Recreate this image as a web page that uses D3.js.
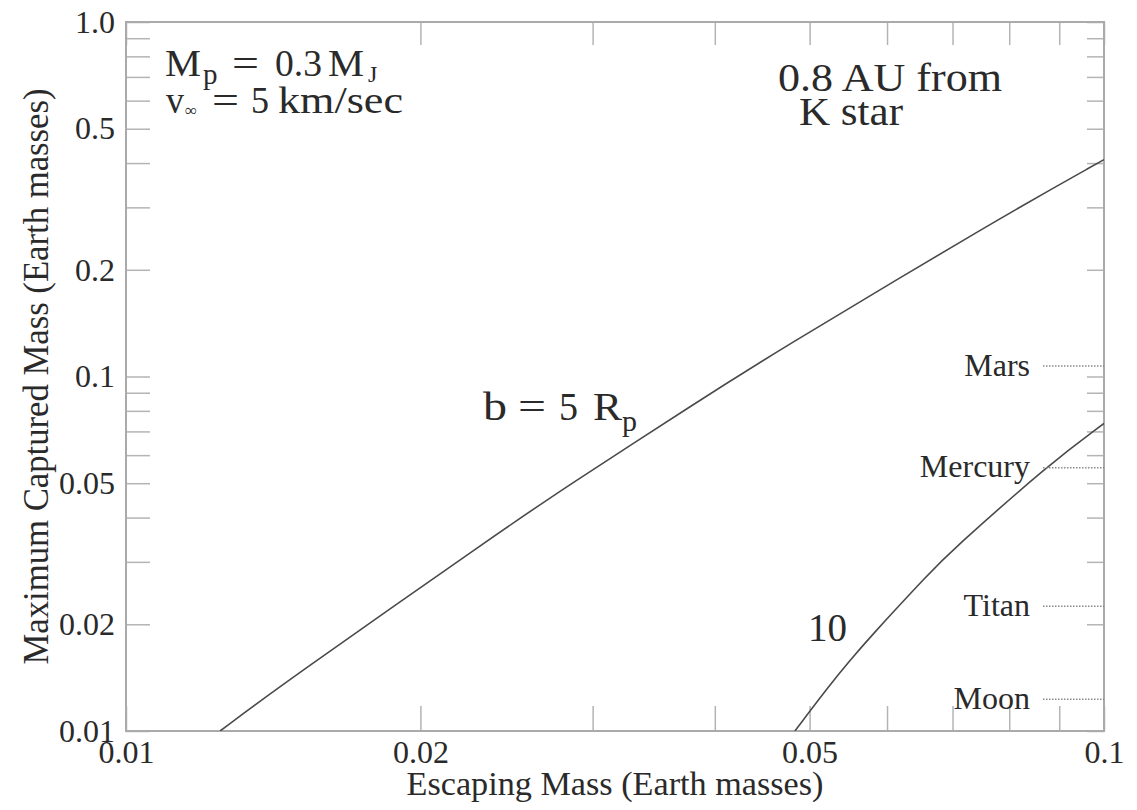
<!DOCTYPE html>
<html>
<head>
<meta charset="utf-8">
<script src="https://cdn.jsdelivr.net/npm/d3@7"></script>
<style>
  html, body { margin: 0; padding: 0; background: #fff; }
  svg, svg text { font-family: "Liberation Serif", "Tinos", "Times New Roman", "DejaVu Serif", "Noto Serif", serif; }
</style>
</head>
<body>
<svg id="chart" width="1137" height="810"></svg>
<script>
// ---- data ----
const xLabeledTicks = [0.01, 0.02, 0.05, 0.1];
const xTickText = ["0.01", "0.02", "0.05", "0.1"];
const yLabeledTicks = [1.0, 0.5, 0.2, 0.1, 0.05, 0.02, 0.01];
const yTickText = ["1.0", "0.5", "0.2", "0.1", "0.05", "0.02", "0.01"];

// curve "b = 5 Rp"
const curveB_x = [0.01248, 0.01448, 0.02413, 0.0280, 0.0386, 0.04518, 0.0783, 0.1];
const curveB_y = [0.0100, 0.0136, 0.0365, 0.0483, 0.0856, 0.1131, 0.2805, 0.409];
// curve "10"
const curve10_x = [0.0483, 0.0525, 0.0550, 0.0576, 0.0664, 0.0696, 0.0880, 0.1];
const curve10_y = [0.0100, 0.01355, 0.01581, 0.01837, 0.02802, 0.03199, 0.05675, 0.0737];

const planetNames = ["Mars", "Mercury", "Titan", "Moon"];
const planetMass = [0.107, 0.0553, 0.0225, 0.0123];

// ---- layout ----
const FONT = '"Liberation Serif", "Tinos", "Times New Roman", "DejaVu Serif", "Noto Serif", serif';
const svg = d3.select("#chart");
const L = 126, R = 1104, T = 22, B = 731;
const x = d3.scaleLog().domain([0.01, 0.1]).range([L, R]);
const y = d3.scaleLog().domain([0.01, 1.0]).range([B, T]);

const allTicks = [];
[0.01, 0.1].forEach(d => { for (let k = 1; k <= 9; k++) allTicks.push(+(k * d).toPrecision(3)); });
const xTicks = allTicks.filter(v => v >= 0.01 && v <= 0.1);
const yTicks = allTicks.concat([1.0]).filter(v => v >= 0.01 && v <= 1.0);

function fmtFactory(vals, texts) {
  return v => {
    const i = vals.findIndex(u => Math.abs(u - v) / u < 1e-6);
    return i >= 0 ? texts[i] : "";
  };
}

const tickColor = "#b4b4b4";
const textColor = "#2a2a2a";

function styleAxis(g) {
  g.attr("font-family", null);
  g.select(".domain").remove();
  g.selectAll(".tick line").attr("stroke", tickColor).attr("stroke-width", 1.5);
  g.selectAll(".tick text").attr("fill", textColor).style("font-size", "32px")
    .style("font-family", FONT);
}

// left axis
svg.append("g").attr("transform", `translate(${L},0)`)
  .call(d3.axisLeft(y).tickValues(yTicks).tickFormat(fmtFactory(yLabeledTicks, yTickText))
    .tickSizeInner(-24).tickSizeOuter(0).tickPadding(11))
  .call(styleAxis);
// right axis
svg.append("g").attr("transform", `translate(${R},0)`)
  .call(d3.axisRight(y).tickValues(yTicks).tickFormat(() => "")
    .tickSizeInner(-17).tickSizeOuter(0))
  .call(styleAxis);
// bottom axis
svg.append("g").attr("transform", `translate(0,${B})`)
  .call(d3.axisBottom(x).tickValues(xTicks).tickFormat(fmtFactory(xLabeledTicks, xTickText))
    .tickSizeInner(-25).tickSizeOuter(0).tickPadding(9))
  .call(styleAxis);
// top axis
svg.append("g").attr("transform", `translate(0,${T})`)
  .call(d3.axisTop(x).tickValues(xTicks).tickFormat(() => "")
    .tickSizeInner(-23).tickSizeOuter(0))
  .call(styleAxis);

// frame
svg.append("rect").attr("x", L).attr("y", T).attr("width", R - L).attr("height", B - T)
  .attr("fill", "none").attr("stroke", "#aaaaaa").attr("stroke-width", 2);

// axis titles
svg.append("text").attr("x", (L + R) / 2).attr("y", 795).attr("text-anchor", "middle")
  .attr("fill", textColor).style("font-size", "34px").style("font-family", FONT)
  .attr("textLength", 417).attr("lengthAdjust", "spacingAndGlyphs")
  .text("Escaping Mass (Earth masses)");
svg.append("text").attr("transform", `translate(48,${(T + B) / 2}) rotate(-90)`)
  .attr("text-anchor", "middle").attr("fill", textColor).style("font-size", "35px")
  .style("font-family", FONT).attr("textLength", 576).attr("lengthAdjust", "spacingAndGlyphs")
  .text("Maximum Captured Mass (Earth masses)");

// curves
const line = d3.line().x(d => x(d[0])).y(d => y(d[1])).curve(d3.curveBasis);
svg.append("clipPath").attr("id", "clip").append("rect")
  .attr("x", L).attr("y", T).attr("width", R - L).attr("height", B - T);
svg.append("path").datum(curveB_x.map((v, i) => [v, curveB_y[i]]))
  .attr("d", line).attr("fill", "none").attr("stroke", "#4a4a4a").attr("stroke-width", 1.6)
  .attr("clip-path", "url(#clip)");
svg.append("path").datum(curve10_x.map((v, i) => [v, curve10_y[i]]))
  .attr("d", line).attr("fill", "none").attr("stroke", "#4a4a4a").attr("stroke-width", 1.6)
  .attr("clip-path", "url(#clip)");

// planet markers
const pg = svg.append("g");
planetNames.forEach((name, i) => {
  const yy = y(planetMass[i]);
  pg.append("line").attr("x1", 1043).attr("x2", R).attr("y1", yy).attr("y2", yy)
    .attr("stroke", "#8a8a8a").attr("stroke-width", 1.5).attr("stroke-dasharray", "1.5,1.5");
  pg.append("text").attr("x", 1030).attr("y", yy).attr("dy", "0.3em").attr("text-anchor", "end")
    .attr("fill", textColor).style("font-size", "32px").style("font-family", FONT).text(name);
});

// annotation blocks: one text element each, pieces as positioned tspans
function block(pieces) {
  const t = svg.append("text").attr("fill", textColor).style("font-family", FONT);
  pieces.forEach(p => {
    const s = t.append("tspan").attr("x", p[0]).attr("y", p[1])
      .style("font-size", p[2] + "px").text(p[3]);
    if (p[4]) s.attr("textLength", p[4]).attr("lengthAdjust", "spacingAndGlyphs");
  });
  return t;
}
// M_p = 0.3 M_J  /  v_inf = 5 km/sec
block([
  [165, 76, 38, "M", 36],
  [203, 84, 29, "p"],
  [232, 76, 38, "=", 27],
  [275, 76, 38, "0.3", 47],
  [328, 76, 38, "M", 36],
  [368, 82, 24, "J"],
  [166, 113, 38, "v", 18],
  [185, 116, 17, "\u221E"],
  [212, 113, 38, "=", 27],
  [251, 113, 38, "5", 18],
  [278, 113, 38, "km/sec", 125]
]);
// b = 5 R_p
block([
  [483, 420, 40, "b", 24],
  [518, 420, 40, "=", 28],
  [559, 420, 40, "5", 19],
  [593, 420, 40, "R", 29],
  [622, 431, 30, "p"]
]);
// 10
block([[808, 641, 40, "10", 39]]);
// 0.8 AU from / K star
block([
  [778, 91, 40, "0.8 AU from", 224],
  [799, 125, 40, "K star", 104]
]);
</script>
</body>
</html>
